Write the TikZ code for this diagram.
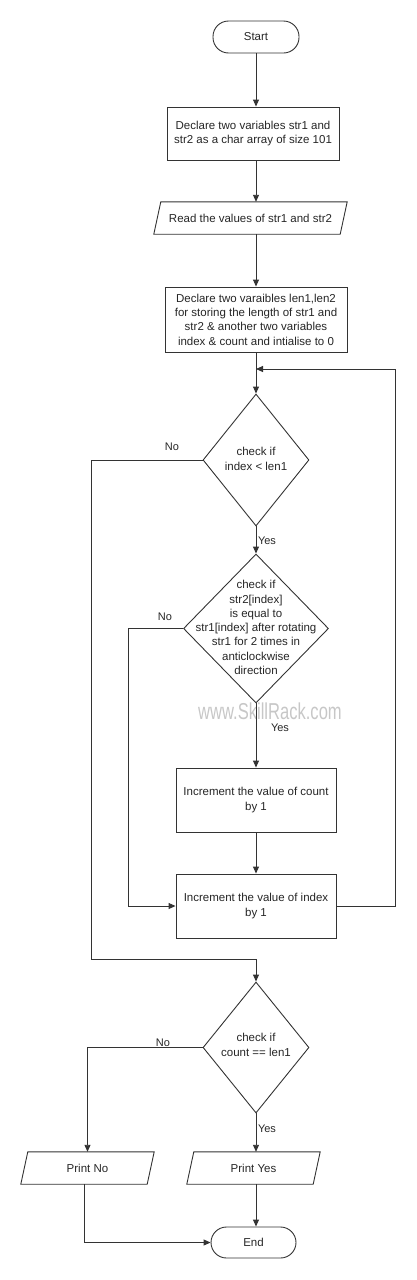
\documentclass[tikz,border=0pt]{standalone}
\usepackage{fontspec}
\setmainfont{Liberation Sans}
\usetikzlibrary{arrows.meta,shapes.geometric}
\begin{document}
\begin{tikzpicture}[x=1pt,y=-1pt,
  every node/.style={font=\fontsize{11.5}{14.3}\selectfont, text=black!85},
  line/.style={draw=black!80, line width=0.9pt},
  arr/.style={line, -{Triangle[length=7pt,width=6pt]}},
  term/.style={line, rectangle, rounded corners=15.5pt, minimum width=86pt, minimum height=32pt, inner sep=0pt},
  proc/.style={line, rectangle, align=center, inner sep=2pt},
  dec/.style={line, diamond, inner sep=0pt},
  io/.style={rectangle, align=center, minimum height=32pt, inner sep=0pt},
  lbl/.style={font=\fontsize{11}{13}\selectfont},
  wm/.style={font=\fontsize{23}{26}\selectfont, text=black!22, xscale=0.72}
]
\useasboundingbox (0,0) rectangle (416,1280);

% nodes
\node[term] (start) at (256,37) {Start};
\node[proc, minimum width=172pt, minimum height=53pt] (box1) at (253,133.5)
  {Declare two variables str1 and\\str2 as a char array of size 101};
\node[io, minimum width=193pt] (read) at (250.5,218) {Read the values of str1 and str2};
\node[proc, minimum width=182pt, minimum height=65pt] (box2) at (256,319.5)
  {Declare two varaibles len1,len2\\for storing the length of str1 and\\str2 \& another two variables\\index \& count and intialise to 0};
\node[dec, minimum width=106pt, minimum height=132pt] (d1) at (256,460) {};
\node[align=center] (d1t) at (256,459) {check if\\index < len1};
\node[dec, minimum width=145pt, minimum height=149pt] (d2) at (256,628.5) {};
\node[align=center] (d2t) at (256,627.5) {check if\\str2[index]\\is equal to\\str1[index] after rotating\\str1 for 2 times in\\anticlockwise\\direction};
\node[wm] (wmark) at (270,711) {www.SkillRack.com};
\node[proc, minimum width=160pt, minimum height=64pt] (box3) at (256,800)
  {Increment the value of count\\by 1};
\node[proc, minimum width=160pt, minimum height=64pt] (box4) at (256,906)
  {Increment the value of index\\by 1};
\node[dec, minimum width=106pt, minimum height=131pt] (d3) at (256,1047.5) {};
\node[align=center] (d3t) at (256,1045) {check if\\count == len1};
\node[io, minimum width=133pt] (pno) at (87.5,1168) {Print No};
\node[io, minimum width=133pt] (pyes) at (253.5,1168) {Print Yes};
\node[term, minimum width=85pt, minimum height=31pt] (end) at (253.5,1242.5) {End};

% parallelogram outlines
\draw[line] ([xshift=7pt]read.north west) -- (read.north east) -- ([xshift=-7pt]read.south east) -- (read.south west) -- cycle;
\draw[line] ([xshift=7pt]pno.north west) -- (pno.north east) -- ([xshift=-7pt]pno.south east) -- (pno.south west) -- cycle;
\draw[line] ([xshift=7pt]pyes.north west) -- (pyes.north east) -- ([xshift=-7pt]pyes.south east) -- (pyes.south west) -- cycle;

% helper coordinates
\coordinate (loopR) at (395,369);
\coordinate (join1) at (256,369);
\coordinate (noL) at (91,959);
\coordinate (no2) at (128,906);

% connectors
\draw[arr] (start.south) -- (start.south |- box1.north);
\draw[arr] (start.south |- box1.south) -- (start.south |- read.north);
\draw[arr] (start.south |- read.south) -- (start.south |- box2.north);
\draw[arr] (box2.south) -- (d1.north);
\draw[arr] (box4.east) -| (loopR) -- (join1);
\draw[arr] (d1.south) -- (d2.north);
\draw[arr] (d1.west) -| (noL) -| (d3.north);
\draw[arr] (d2.south) -- (box3.north);
\draw[arr] (d2.west) -| (no2) -- (box4.west);
\draw[arr] (box3.south) -- (box4.north);
\draw[arr] (d3.west) -| (pno.north);
\draw[arr] (d3.south) -- (d3.south |- pyes.north);
\draw[arr] (d3.south |- pyes.south) -- (d3.south |- end.north);
\draw[arr] ([xshift=-3pt]pno.south) |- (end.west);

% labels
\node[lbl] (l1) at (172,447) {No};
\node[lbl] (l2) at (267,541) {Yes};
\node[lbl] (l3) at (165,617) {No};
\node[lbl] (l4) at (280,728) {Yes};
\node[lbl] (l5) at (163,1043) {No};
\node[lbl] (l6) at (267,1129) {Yes};
\end{tikzpicture}
\end{document}
